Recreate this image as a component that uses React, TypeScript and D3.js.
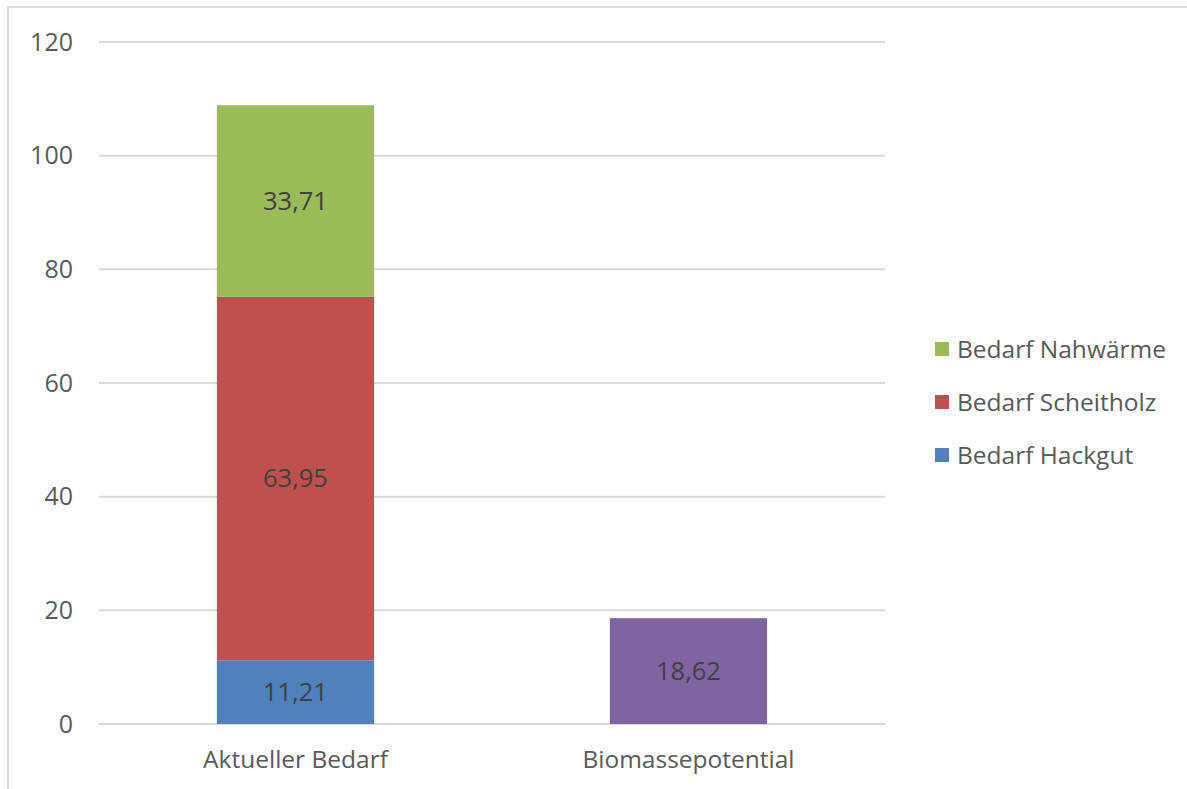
import React from "react";
import * as d3 from "d3";

const categories = ["Aktueller Bedarf", "Biomassepotential"];
const seriesNames = ["Bedarf Hackgut", "Bedarf Scheitholz", "Bedarf Nahwärme", "Biomassepotential"];
const hackgut = [11.21, 0];
const scheitholz = [63.95, 0];
const nahwaerme = [33.71, 0];
const biomasse = [0, 18.62];
const seriesColors = ["#4f81bd", "#c0504d", "#9bbb59", "#8064a2"];
const yTicks = [0, 20, 40, 60, 80, 100, 120];
const legendItems = ["Bedarf Nahwärme", "Bedarf Scheitholz", "Bedarf Hackgut"];
const legendColors = ["#9bbb59", "#c0504d", "#4f81bd"];

const W = 1187;
const H = 789;
const FONT = "'Open Sans', sans-serif";
const FS = 24.5;

export default function App() {
  const left = 99, right = 885, top = 42, bottom = 724;
  const y = d3.scaleLinear().domain([0, 120]).range([bottom, top]);
  const x = d3.scaleBand().domain(categories).range([left, right]).paddingInner(0.6).paddingOuter(0.3);

  const rows = categories.map((c, i) => ({
    cat: c,
    "Bedarf Hackgut": hackgut[i],
    "Bedarf Scheitholz": scheitholz[i],
    "Bedarf Nahwärme": nahwaerme[i],
    Biomassepotential: biomasse[i],
  }));
  const stacked = d3.stack<any>().keys(seriesNames)(rows);
  const fmt = (v: number) => v.toFixed(2).replace(".", ",");

  return (
    <svg width={W} height={H} style={{ position: "absolute", left: 0, top: 0, background: "#fff" }}>
      <rect x={8} y={7} width={W + 10} height={H + 10} fill="#fff" stroke="#d9d9d9" strokeWidth={2} />
      {yTicks.map((t) => (
        <g key={t}>
          <line x1={left} x2={right} y1={y(t)} y2={y(t)} stroke="#d9d9d9" strokeWidth={2} />
          <text x={73} y={y(t)} dy="0.35em" textAnchor="end" fontFamily={FONT} fontSize={FS + 0.5} fill="#595959">
            {t}
          </text>
        </g>
      ))}
      {stacked.map((s, si) =>
        s.map((d, i) => {
          const v = d[1] - d[0];
          if (v <= 0) return null;
          const bx = x(categories[i])!;
          const bw = x.bandwidth();
          return (
            <g key={`${si}-${i}`}>
              <rect x={bx} y={y(d[1])} width={bw} height={y(d[0]) - y(d[1])} fill={seriesColors[si]} />
              <text
                x={bx + bw / 2}
                y={(y(d[0]) + y(d[1])) / 2}
                dy="0.35em"
                textAnchor="middle"
                fontFamily={FONT}
                fontSize={FS + 1}
                fill="#404040"
              >
                {fmt(v)}
              </text>
            </g>
          );
        })
      )}
      {categories.map((c) => (
        <text
          key={c}
          x={x(c)! + x.bandwidth() / 2}
          y={759}
          dy="0.35em"
          textAnchor="middle"
          fontFamily={FONT}
          fontSize={FS}
          fill="#595959"
        >
          {c}
        </text>
      ))}
      {legendItems.map((l, i) => (
        <g key={l} transform={`translate(935, ${349 + i * 53})`}>
          <rect x={0} y={-7} width={14} height={14} fill={legendColors[i]} />
          <text x={22} y={0} dy="0.35em" fontFamily={FONT} fontSize={FS} fill="#595959">
            {l}
          </text>
        </g>
      ))}
    </svg>
  );
}
